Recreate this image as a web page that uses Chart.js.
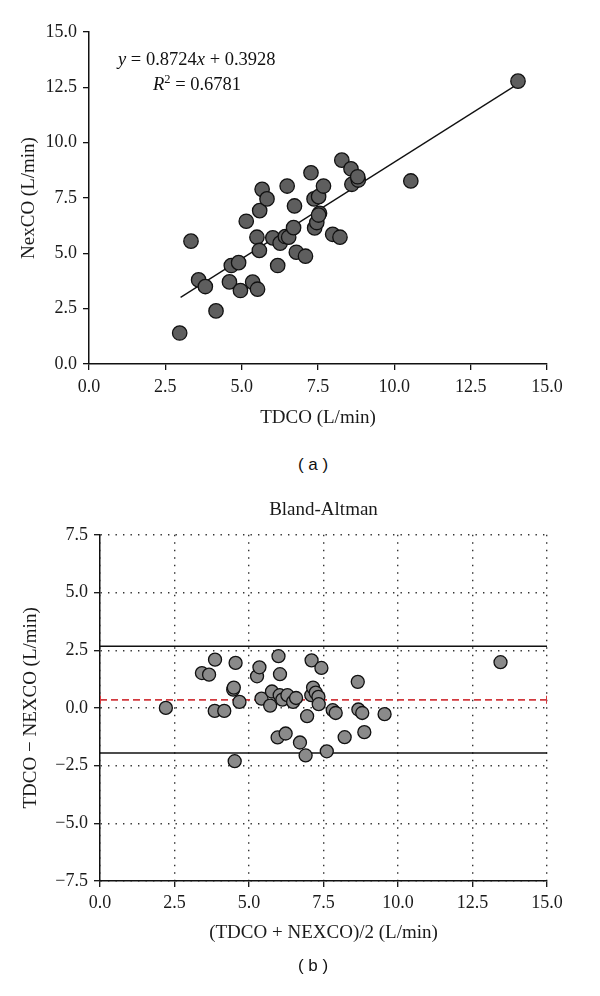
<!DOCTYPE html>
<html>
<head>
<meta charset="utf-8">
<script src="https://cdn.jsdelivr.net/npm/chart.js@4.4.1/dist/chart.umd.min.js"></script>
<style>
  body { margin: 0; background: #fff; width: 600px; height: 996px; position: relative; overflow: hidden; font-family: "Liberation Serif", serif; color: #111; }
  #wrapA { position: absolute; left: 0; top: 0; width: 600px; height: 440px; }
  #wrapB { position: absolute; left: 0; top: 490px; width: 600px; height: 470px; }
  .eq { position: absolute; font-size: 18.5px; line-height: 22px; white-space: nowrap; }
  .eq sup { font-size: 12.5px; line-height: 0; vertical-align: 7px; }
  .cap { position: absolute; left: 213px; width: 200px; text-align: center; font-family: "Liberation Sans", sans-serif; font-size: 17px; line-height: 20px; }
</style>
</head>
<body>
<div id="wrapA"><canvas id="chartA" width="600" height="440"></canvas></div>
<div class="eq" style="left:118px; top:48px;"><i>y</i> = 0.8724<i>x</i> + 0.3928</div>
<div class="eq" style="left:153px; top:73px;"><i>R</i><sup>2</sup> = 0.6781</div>
<div class="cap" style="top:455px;">( a )</div>
<div id="wrapB"><canvas id="chartB" width="600" height="470"></canvas></div>
<div class="cap" style="top:956px;">( b )</div>
<script>
// (a) correlation: TDCO vs NexCO
const tdco = [2.97, 3.34, 3.59, 3.81, 4.16, 4.60, 4.66, 4.90, 4.96, 5.15, 5.36, 5.52, 5.50, 5.58, 5.59,
  5.67, 5.83, 6.02, 6.18, 6.26, 6.43, 6.49, 6.54, 6.70, 6.73, 6.79, 7.09, 7.27, 7.37, 7.39,
  7.46, 7.52, 7.55, 7.52, 7.68, 7.98, 8.22, 8.28, 8.58, 8.61, 8.82, 8.80, 10.54, 14.05];
const nexco = [1.40, 5.55, 3.80, 3.50, 2.40, 3.71, 4.45, 4.58, 3.32, 6.45, 3.70, 3.38, 5.73, 5.13, 6.93,
  7.89, 7.46, 5.70, 4.45, 5.46, 5.76, 8.04, 5.73, 6.16, 7.14, 5.05, 4.87, 8.64, 7.46, 6.15,
  6.39, 7.56, 6.81, 6.73, 8.04, 5.86, 5.73, 9.21, 8.82, 8.12, 8.31, 8.46, 8.27, 12.78];
const fitX = [3.0, 14.0];
const fitY = [3.01, 12.61];

// (b) Bland-Altman
const baMean = [2.21, 3.42, 3.66, 3.86, 3.85, 4.17, 4.47, 4.49, 4.55, 4.52, 4.68, 5.27, 5.35, 5.42, 5.71,
  5.77, 5.99, 6.04, 6.03, 6.12, 5.96, 6.23, 6.29, 6.48, 6.58, 6.71, 6.95, 6.90, 7.10, 7.09,
  7.15, 7.24, 7.33, 7.34, 7.43, 7.61, 7.81, 7.91, 8.21, 8.65, 8.67, 8.80, 8.87, 9.55, 13.44];
const baDiff = [0.00, 1.51, 1.44, 2.09, -0.13, -0.13, 0.79, 0.88, 1.95, -2.31, 0.26, 1.37, 1.76, 0.40, 0.10,
  0.71, 2.24, 1.46, 0.55, 0.36, -1.28, -1.11, 0.55, 0.26, 0.43, -1.50, -0.36, -2.06, 2.06, 0.55,
  0.88, 0.66, 0.48, 0.16, 1.73, -1.88, -0.10, -0.22, -1.27, 1.13, -0.07, -0.22, -1.05, -0.27, 1.98];
const baLineX = [0, 15];
const meanBias = 0.35;
const upperLoA = 2.67;
const lowerLoA = -1.95;

const serif = "'Liberation Serif', serif";
const fmt = v => v.toFixed(1).replace('-', '\u2212');

function pts(xs, ys) {
  return xs.map((x, i) => ({ x: x, y: ys[i] }));
}

const axisA = (title, isY) => ({
  type: 'linear', min: 0, max: 15,
  border: { color: '#111', width: 1.5 },
  grid: { drawOnChartArea: false, drawTicks: true, tickLength: 6, tickColor: '#111', lineWidth: 1.3 },
  ticks: { stepSize: 2.5, padding: isY ? 6 : 6, color: '#1a1a1a', font: { family: serif, size: 18 }, callback: v => fmt(v) },
  title: { display: true, text: title, color: '#1a1a1a', font: { family: serif, size: 19 },
    padding: isY ? { top: 18 } : { bottom: 11 } },
  afterFit: s => { if (isY) s.width = 89; else s.height = 76; }
});

new Chart(document.getElementById('chartA'), {
  type: 'scatter',
  data: {
    datasets: [{
      data: pts(tdco, nexco),
      backgroundColor: '#5e5e5e',
      borderColor: '#111',
      borderWidth: 1.3,
      pointRadius: 7.2
    }, {
      type: 'line',
      data: pts(fitX, fitY),
      borderColor: '#111',
      borderWidth: 1.3,
      pointRadius: 0,
      fill: false
    }]
  },
  options: {
    responsive: false,
    animation: false,
    layout: { padding: { top: 32, right: 53, left: 0, bottom: 0 } },
    plugins: { legend: { display: false }, tooltip: { enabled: false } },
    scales: {
      x: axisA('TDCO (L/min)', false),
      y: axisA('NexCO (L/min)', true)
    }
  }
});

const axisB = (title, isY) => ({
  type: 'linear',
  min: isY ? -7.5 : 0,
  max: isY ? 7.5 : 15,
  border: { color: '#111', width: 1.5, dash: [1.4, 6.1] },
  grid: { drawOnChartArea: true, drawTicks: true, tickLength: 6, color: '#333', lineWidth: 1.4,
    tickColor: '#111', tickWidth: 1.3, tickBorderDash: [] },
  ticks: { stepSize: 2.5, padding: isY ? 6 : 5, color: '#1a1a1a', font: { family: serif, size: 18 }, callback: v => fmt(v) },
  title: { display: true, text: title, color: '#1a1a1a', font: { family: serif, size: 19 },
    padding: isY ? { top: 20 } : { bottom: 16 } },
  afterFit: s => { if (isY) s.width = 100; else s.height = 79; }
});

const hLine = (y, color, dash, width, marker) => ({
  type: 'line',
  data: baLineX.map(x => ({ x: x, y: y })),
  borderColor: color,
  borderWidth: width,
  borderDash: dash,
  pointStyle: 'line',
  rotation: 90,
  pointRadius: marker ? 4 : 0,
  pointBorderColor: color,
  pointBorderWidth: 2,
  fill: false,
  order: 2
});

new Chart(document.getElementById('chartB'), {
  type: 'scatter',
  data: {
    datasets: [{
      data: pts(baMean, baDiff),
      backgroundColor: '#8a8a8a',
      borderColor: '#111',
      borderWidth: 1.3,
      pointRadius: 6.5,
      order: 1
    },
    hLine(upperLoA, '#111', [], 1.5, false),
    hLine(lowerLoA, '#111', [], 1.5, false),
    hLine(meanBias, '#d23a3f', [7, 4], 1.8, true)]
  },
  options: {
    responsive: false,
    animation: false,
    layout: { padding: { top: 0, right: 53, left: 0, bottom: 0 } },
    plugins: {
      legend: { display: false },
      tooltip: { enabled: false },
      title: { display: true, text: 'Bland-Altman', fullSize: false, color: '#1a1a1a',
        font: { family: serif, size: 19, weight: 'normal' }, padding: { top: 9, bottom: 13 } }
    },
    scales: {
      x: axisB('(TDCO + NEXCO)/2 (L/min)', false),
      y: axisB('TDCO \u2212 NEXCO (L/min)', true)
    }
  }
});
</script>
</body>
</html>
